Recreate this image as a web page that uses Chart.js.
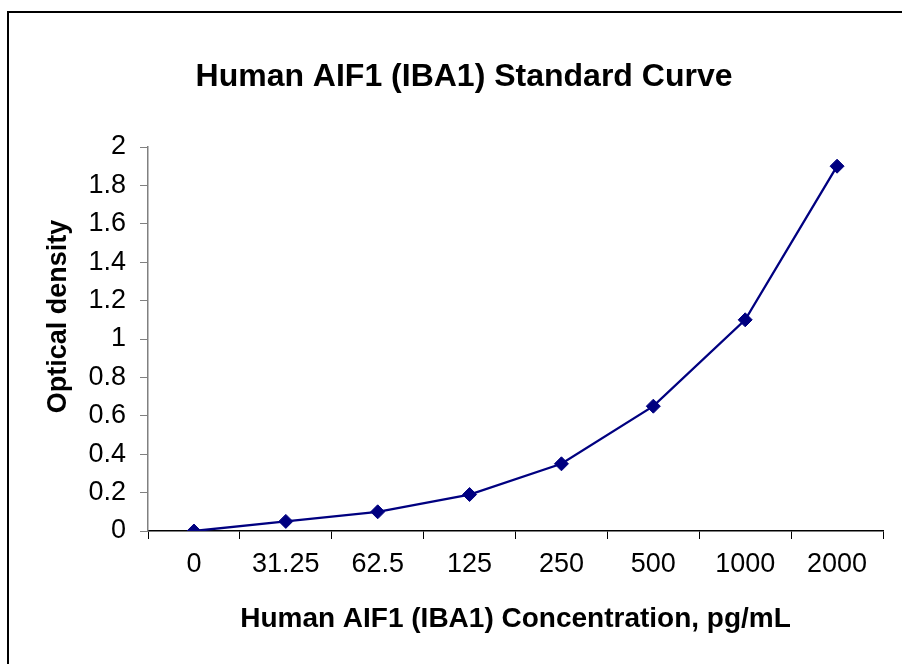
<!DOCTYPE html>
<html>
<head>
<meta charset="utf-8">
<script src="https://cdn.jsdelivr.net/npm/chart.js@4"></script>
<style>
html,body{margin:0;padding:0;background:#fff;overflow:hidden;}
#wrap{position:relative;width:902px;height:664px;}
#frame{position:absolute;left:7px;top:11px;width:1000px;height:1000px;border:2px solid #000;box-sizing:border-box;}
#cv{position:absolute;left:0;top:0;}
</style>
</head>
<body>
<div id="wrap">
<div id="frame"></div>
<canvas id="cv" width="902" height="664"></canvas>
</div>
<script>
const categories = ['0', '31.25', '62.5', '125', '250', '500', '1000', '2000'];
const opticalDensity = [0, 0.05, 0.1, 0.19, 0.35, 0.65, 1.1, 1.9];
const yTickLabels = ['0', '0.2', '0.4', '0.6', '0.8', '1', '1.2', '1.4', '1.6', '1.8', '2'];

const FONT = "'Liberation Sans', Arial, sans-serif";

new Chart(document.getElementById('cv'), {
  type: 'line',
  data: {
    labels: categories,
    datasets: [{
      data: opticalDensity,
      borderColor: '#000080',
      backgroundColor: '#000080',
      borderWidth: 2.3,
      pointStyle: 'rectRot',
      pointRadius: 7,
      pointBorderWidth: 1,
      pointBackgroundColor: '#000080',
      pointBorderColor: '#000080',
      tension: 0,
      fill: false
    }]
  },
  options: {
    responsive: false,
    animation: false,
    devicePixelRatio: 1,
    layout: { padding: { left: 45, top: 0, right: 19, bottom: 0 } },
    plugins: {
      legend: { display: false },
      tooltip: { enabled: false },
      title: {
        display: true,
        text: 'Human AIF1 (IBA1) Standard Curve',
        color: '#000',
        font: { family: FONT, size: 32, weight: 'bold' },
        padding: { top: 58, bottom: 50.6 }
      }
    },
    scales: {
      x: {
        type: 'category',
        offset: true,
        grid: { drawOnChartArea: false, drawTicks: true, tickLength: 8, color: '#000', offset: true },
        border: { display: true, color: '#000', width: 1.5 },
        ticks: { color: '#000', font: { family: FONT, size: 27 }, padding: 9.5, maxRotation: 0, autoSkip: false },
        title: {
          display: true,
          text: 'Human AIF1 (IBA1) Concentration, pg/mL',
          color: '#000',
          font: { family: FONT, size: 28, weight: 'bold' },
          padding: { top: 0, bottom: 28 }
        },
        afterFit: s => { s.height = 133; }
      },
      y: {
        min: 0,
        max: 2,
        grid: { drawOnChartArea: false, drawTicks: true, tickLength: 8, color: '#808080' },
        border: { display: true, color: '#808080', width: 1.5 },
        ticks: {
          stepSize: 0.2,
          color: '#000',
          font: { family: FONT, size: 27 },
          padding: 14,
          callback: (v, i) => yTickLabels[i]
        },
        title: {
          display: true,
          text: '      Optical density',
          color: '#000',
          font: { family: FONT, size: 27, weight: 'bold' },
          padding: { top: -3, bottom: 0 }
        },
        afterFit: s => { s.width = 103; }
      }
    }
  }
});
</script>
</body>
</html>
